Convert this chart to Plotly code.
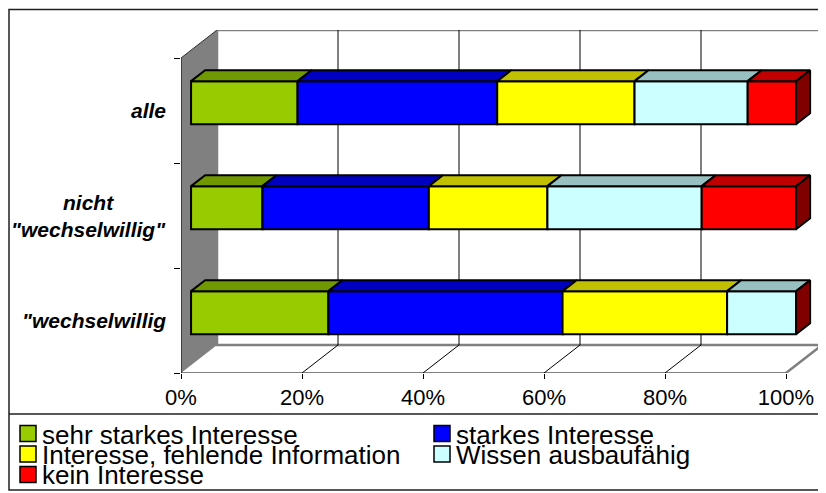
import plotly.graph_objects as go

# categories (top to bottom) and series values in percent
categories = ["alle", "nicht<br>\"wechselwillig\"", "\"wechselwillig"]
sehr_starkes_interesse = [17.6, 11.8, 22.7]
starkes_interesse = [33.0, 27.5, 38.7]
fehlende_information = [22.7, 19.6, 27.2]
wissen_ausbaufaehig = [18.7, 25.5, 11.4]
kein_interesse = [8.0, 15.6, 0.0]

series_names = [
    "sehr starkes Interesse",
    "starkes Interesse",
    "Interesse, fehlende Information",
    "Wissen ausbaufähig",
    "kein Interesse",
]
series_values = [
    sehr_starkes_interesse,
    starkes_interesse,
    fehlende_information,
    wissen_ausbaufaehig,
    kein_interesse,
]
x_ticks = [0, 20, 40, 60, 80, 100]
x_ticktext = ["0%", "20%", "40%", "60%", "80%", "100%"]

# face colours: front / top (darker), side of last series
FRONT = ["#99CC00", "#0000FF", "#FFFF00", "#CCFFFF", "#FF0000"]
TOP = ["#709800", "#0000C0", "#C0C000", "#99C0C0", "#C00000"]
SIDE = "#800000"

FONT = "Arial, Liberation Sans, sans-serif"

# page has an 8px body margin, so the figure is drawn 8px smaller
OFF = 8
W, H = 826 - OFF, 493 - OFF
# plot area in page pixels
L, R, T, B = 181, 822, 30, 373
DX = (36 / 605) * 100          # depth offset in x units
DY = 28 / 105                  # depth offset in y units
D0, D1 = 0.28, 0.67            # bar front / back depth fraction
HALF = 0.205                   # half bar height (category units)

n_cat = len(categories)
centers = [n_cat - 0.5 - i for i in range(n_cat)]


def px_x(p):
    return (p - L) / (R - L)


def px_y(p):
    return (B - p) / (B - T)


fig = go.Figure()

# front faces as bars, stacked by explicit base
cum = [0.0] * n_cat
bases = []
for vals in series_values:
    bases.append(list(cum))
    cum = [c + v for c, v in zip(cum, vals)]
totals = cum

for k, (name, vals) in enumerate(zip(series_names, series_values)):
    fig.add_trace(go.Bar(
        name=name,
        orientation="h",
        x=vals,
        base=[b + D0 * DX for b in bases[k]],
        y=[c + D0 * DY for c in centers],
        width=2 * HALF,
        marker=dict(color=FRONT[k], line=dict(color="black", width=2)),
        hoverinfo="skip",
        showlegend=False,
    ))

# top faces
for k, vals in enumerate(series_values):
    for i, v in enumerate(vals):
        if v <= 0:
            continue
        x0, x1 = bases[k][i], bases[k][i] + v
        yt = centers[i] + HALF
        xs = [x0 + D0 * DX, x0 + D1 * DX, x1 + D1 * DX, x1 + D0 * DX, x0 + D0 * DX]
        ys = [yt + D0 * DY, yt + D1 * DY, yt + D1 * DY, yt + D0 * DY, yt + D0 * DY]
        fig.add_trace(go.Scatter(
            x=xs, y=ys, mode="lines", fill="toself", fillcolor=TOP[k],
            line=dict(color="black", width=2), hoverinfo="skip", showlegend=False,
        ))

# right side faces
for i, tot in enumerate(totals):
    yb, yt = centers[i] - HALF, centers[i] + HALF
    xs = [tot + D0 * DX, tot + D0 * DX, tot + D1 * DX, tot + D1 * DX, tot + D0 * DX]
    ys = [yb + D0 * DY, yt + D0 * DY, yt + D1 * DY, yb + D1 * DY, yb + D0 * DY]
    fig.add_trace(go.Scatter(
        x=xs, y=ys, mode="lines", fill="toself", fillcolor=SIDE,
        line=dict(color="black", width=2), hoverinfo="skip", showlegend=False,
    ))

shapes = []
# back wall
shapes.append(dict(type="rect", layer="below", x0=DX, y0=DY, x1=100 + DX, y1=n_cat + DY,
                   fillcolor="white", line=dict(color="#808080", width=2.5)))
# left wall
shapes.append(dict(type="path", layer="below",
                   path=f"M 0 0 L {DX} {DY} L {DX} {n_cat + DY} L 0 {n_cat} Z",
                   fillcolor="#808080", line=dict(width=0)))
shapes.append(dict(type="line", layer="below", x0=0, y0=n_cat, x1=DX, y1=n_cat + DY,
                   line=dict(color="#303030", width=1)))
# gridlines on back wall and floor
for v in x_ticks[1:-1]:
    shapes.append(dict(type="line", layer="below", x0=v + DX, y0=DY, x1=v + DX, y1=n_cat + DY,
                       line=dict(color="black", width=1)))
    shapes.append(dict(type="line", layer="below", x0=v, y0=0, x1=v + DX, y1=DY,
                       line=dict(color="black", width=1)))
# floor right edge
shapes.append(dict(type="line", layer="below", x0=100, y0=0, x1=100 + DX, y1=DY,
                   line=dict(color="#808080", width=2.5)))
# front edges (axes)
shapes.append(dict(type="line", layer="below", x0=0, y0=0, x1=100, y1=0,
                   line=dict(color="black", width=1)))
shapes.append(dict(type="line", layer="below", x0=0, y0=0, x1=0, y1=n_cat,
                   line=dict(color="black", width=1)))

# outer frame and legend separator
shapes.append(dict(type="rect", xref="paper", yref="paper",
                   x0=px_x(9), y0=px_y(490), x1=px_x(823), y1=px_y(9.5),
                   line=dict(color="#202020", width=1.5)))
shapes.append(dict(type="line", xref="paper", yref="paper",
                   x0=px_x(9), y0=px_y(414), x1=px_x(823), y1=px_y(414),
                   line=dict(color="#202020", width=1.5)))

annotations = []
# category labels
for c, lab in zip(centers, categories):
    annotations.append(dict(
        xref="paper", yref="y", x=0, y=c, xanchor="right", yanchor="middle",
        xshift=-13, align="center", showarrow=False,
        text=f"<b><i>{lab}</i></b>",
        font=dict(family=FONT, size=21, color="black"),
    ))

# legend, two columns
leg_cols = [(20, 43), (434, 457)]
leg_rows = [433.5, 454, 474.5]
for k, name in enumerate(series_names):
    sx, tx = leg_cols[k % 2]
    cy = leg_rows[k // 2]
    shapes.append(dict(type="rect", xref="paper", yref="paper",
                       x0=px_x(sx), x1=px_x(sx + 16), y0=px_y(cy + 8), y1=px_y(cy - 8),
                       fillcolor=FRONT[k], line=dict(color="black", width=1.5)))
    annotations.append(dict(
        xref="paper", yref="paper", x=px_x(tx - 3), y=px_y(cy + 1),
        xanchor="left", yanchor="middle", showarrow=False, text=name,
        font=dict(family=FONT, size=26, color="black"),
    ))

fig.update_layout(
    width=W,
    height=H,
    margin=dict(l=L - OFF, r=W - (R - OFF), t=T - OFF, b=H - (B - OFF), autoexpand=False),
    paper_bgcolor="white",
    plot_bgcolor="white",
    barmode="overlay",
    showlegend=False,
    xaxis=dict(
        range=[0, 100 + DX],
        tickvals=x_ticks,
        ticktext=x_ticktext,
        ticks="outside",
        ticklen=5,
        tickcolor="black",
        showgrid=False,
        zeroline=False,
        showline=False,
        tickfont=dict(family=FONT, size=22, color="black"),
        fixedrange=True,
    ),
    yaxis=dict(
        range=[0, n_cat + DY],
        showticklabels=False,
        ticks="",
        showgrid=False,
        zeroline=False,
        showline=False,
        minor=dict(tickvals=list(range(n_cat + 1)), ticks="outside", ticklen=6,
                   tickcolor="black", showgrid=False),
        fixedrange=True,
    ),
    shapes=shapes,
    annotations=annotations,
)

fig.write_html("out.html")
